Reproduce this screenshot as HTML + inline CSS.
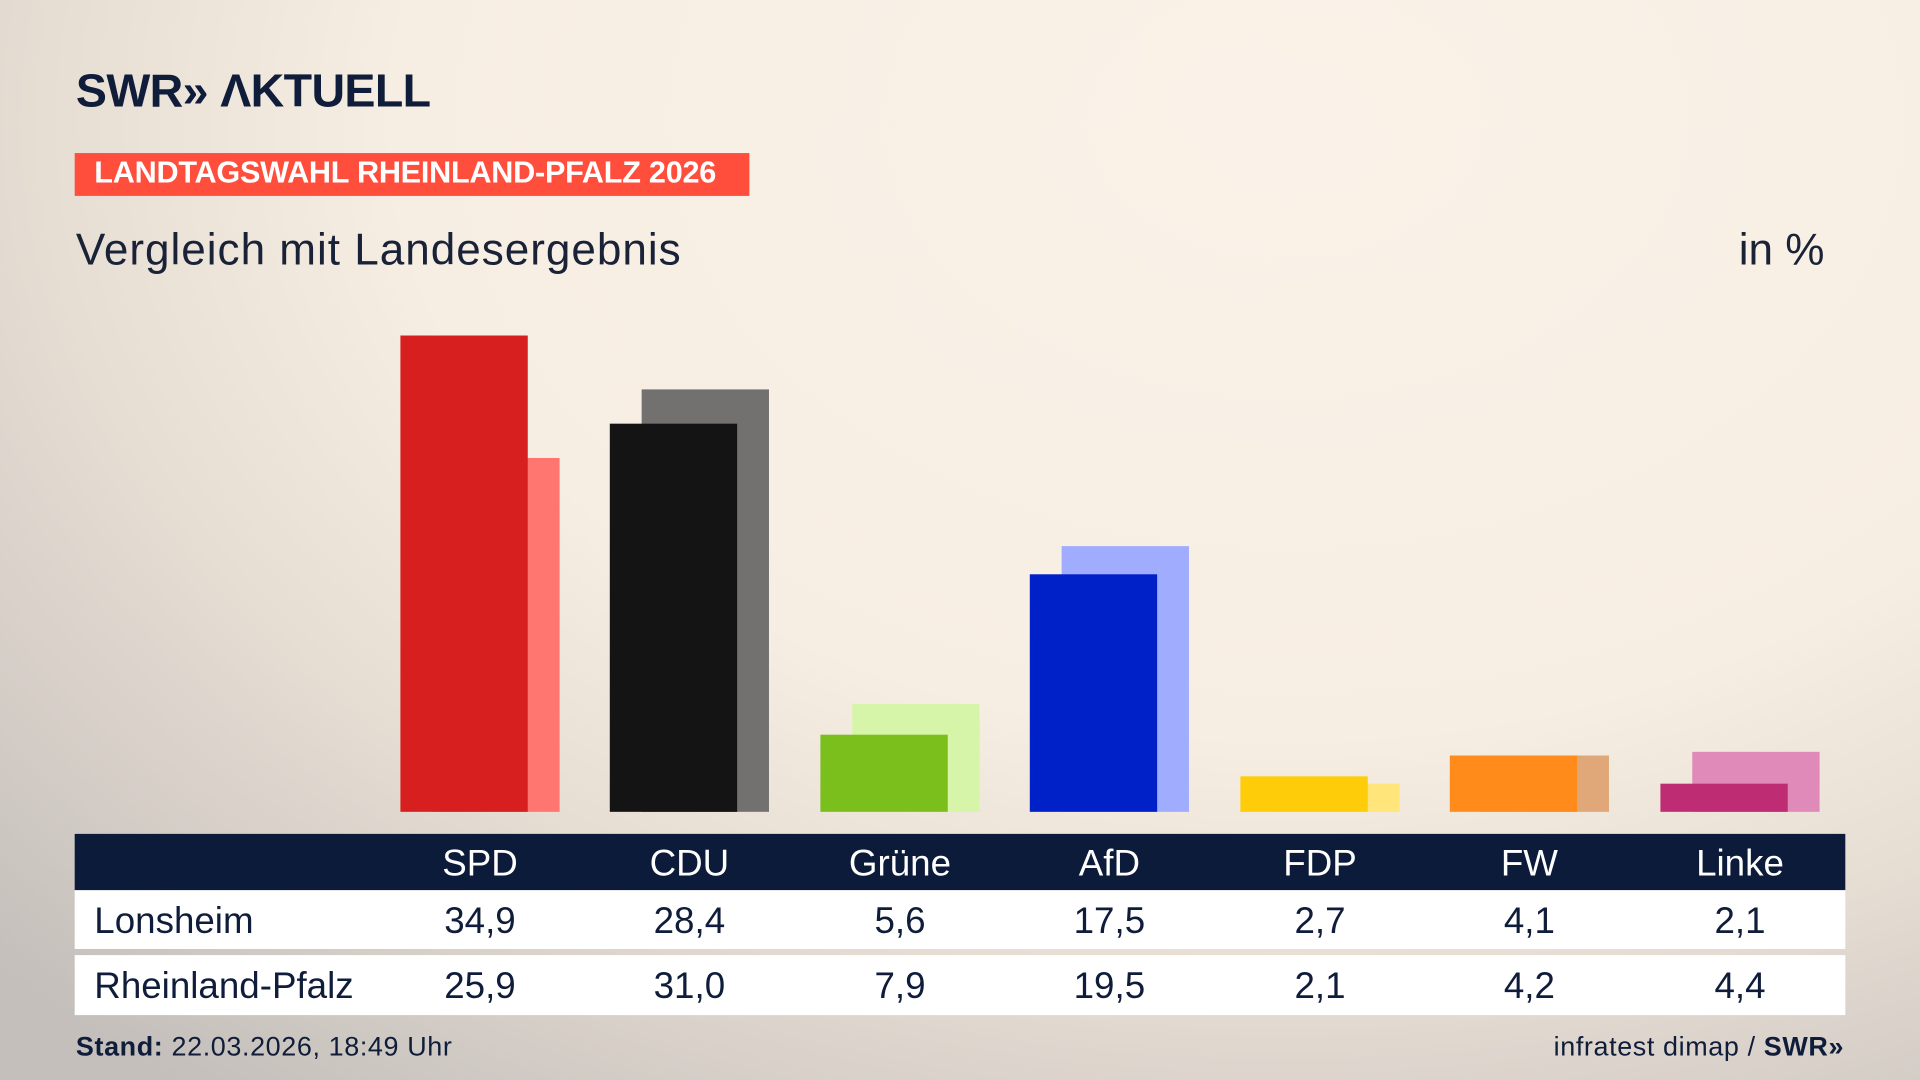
<!DOCTYPE html>
<html><head><meta charset="utf-8"><style>
html,body{margin:0;padding:0;width:1920px;height:1080px;overflow:hidden}
#w{position:absolute;left:0;top:0;width:1568px;height:882px;transform:scale(1.22449);transform-origin:0 0;
background:radial-gradient(ellipse 1450px 1000px at 1050px 100px,#faf2e8 0%,#f7eee3 50%,#e6ddd3 70%,#c4bfbb 100%);
font-family:"Liberation Sans",sans-serif;color:#0f1c3a}
.a{position:absolute;white-space:nowrap}
.b{position:absolute;width:104px}
.hd{position:absolute;top:681px;left:61px;width:1446px;height:46px;background:#0c1b3a}
.r1{position:absolute;top:727px;left:61px;width:1446px;height:48px;background:#fff}
.r2{position:absolute;top:780px;left:61px;width:1446px;height:49px;background:#fff}
.c{position:absolute;width:140px;text-align:center;font-size:30px}
</style></head><body><div id="w">
<div class="a" style="left:62px;top:54px;font-size:38px;font-weight:bold;letter-spacing:-0.5px">SWR»&nbsp;ΛKTUELL</div>
<div class="a" style="left:61px;top:125px;width:551px;height:35px;background:#ff4f3c"></div>
<div class="a" style="left:77px;top:127px;font-size:25px;font-weight:bold;color:#fff;letter-spacing:-0.2px">LANDTAGSWAHL RHEINLAND-PFALZ 2026</div>
<div class="a" style="left:62px;top:183px;font-size:36px;letter-spacing:0.8px;color:#1a2238">Vergleich mit Landesergebnis</div>
<div class="a" style="right:78px;top:183px;font-size:36px;color:#1a2238">in %</div>

<div class="b" style="left:353px;top:374px;height:289px;background:#ff7570"></div>
<div class="b" style="left:327px;top:274px;height:389px;background:#d81f1f"></div>
<div class="b" style="left:524px;top:318px;height:345px;background:#737170"></div>
<div class="b" style="left:498px;top:346px;height:317px;background:#141414"></div>
<div class="b" style="left:696px;top:575px;height:88px;background:#d6f5a8"></div>
<div class="b" style="left:670px;top:600px;height:63px;background:#7abf1c"></div>
<div class="b" style="left:867px;top:446px;height:217px;background:#a0adff"></div>
<div class="b" style="left:841px;top:469px;height:194px;background:#0021c8"></div>
<div class="b" style="left:1039px;top:640px;height:23px;background:#ffe57a"></div>
<div class="b" style="left:1013px;top:634px;height:29px;background:#ffcc0a"></div>
<div class="b" style="left:1210px;top:617px;height:46px;background:#e0a878"></div>
<div class="b" style="left:1184px;top:617px;height:46px;background:#ff8c1a"></div>
<div class="b" style="left:1382px;top:614px;height:49px;background:#df8ab8"></div>
<div class="b" style="left:1356px;top:640px;height:23px;background:#be2d74"></div>

<div class="hd"></div><div class="r1"></div><div class="r2"></div>
<div class="a" style="left:77px;top:736px;font-size:30px">Lonsheim</div>
<div class="a" style="left:77px;top:789px;font-size:30px">Rheinland-Pfalz</div>

<div class="c" style="left:322px;top:689px;color:#fff">SPD</div>
<div class="c" style="left:493px;top:689px;color:#fff">CDU</div>
<div class="c" style="left:665px;top:689px;color:#fff">Grüne</div>
<div class="c" style="left:836px;top:689px;color:#fff">AfD</div>
<div class="c" style="left:1008px;top:689px;color:#fff">FDP</div>
<div class="c" style="left:1179px;top:689px;color:#fff">FW</div>
<div class="c" style="left:1351px;top:689px;color:#fff">Linke</div>
<div class="c" style="left:322px;top:736px">34,9</div>
<div class="c" style="left:493px;top:736px">28,4</div>
<div class="c" style="left:665px;top:736px">5,6</div>
<div class="c" style="left:836px;top:736px">17,5</div>
<div class="c" style="left:1008px;top:736px">2,7</div>
<div class="c" style="left:1179px;top:736px">4,1</div>
<div class="c" style="left:1351px;top:736px">2,1</div>
<div class="c" style="left:322px;top:789px">25,9</div>
<div class="c" style="left:493px;top:789px">31,0</div>
<div class="c" style="left:665px;top:789px">7,9</div>
<div class="c" style="left:836px;top:789px">19,5</div>
<div class="c" style="left:1008px;top:789px">2,1</div>
<div class="c" style="left:1179px;top:789px">4,2</div>
<div class="c" style="left:1351px;top:789px">4,4</div>

<div class="a" style="left:62px;top:842px;font-size:22px;letter-spacing:0.5px"><b>Stand:</b> 22.03.2026, 18:49 Uhr</div>
<div class="a" style="right:62px;top:842px;font-size:22px;letter-spacing:0.5px">infratest dimap / <b>SWR»</b></div>
</div></body></html>
